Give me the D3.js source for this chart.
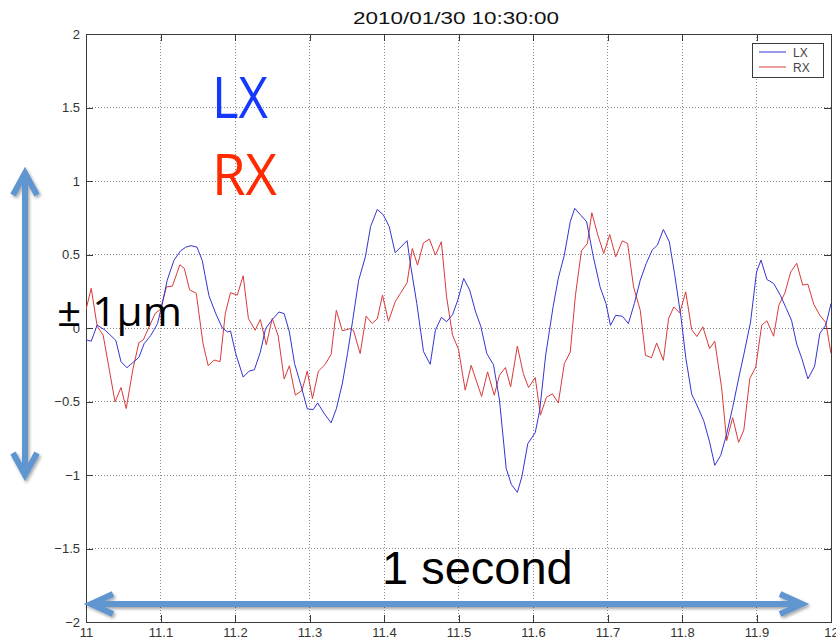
<!DOCTYPE html>
<html>
<head>
<meta charset="utf-8">
<script src="https://cdn.jsdelivr.net/npm/d3@7"></script>
<style>
  body { margin: 0; background: #fff; }
  svg { display: block; }
</style>
</head>
<body>
<div id="chart"></div>
<script>
// ---- data ----
const title = "2010/01/30 10:30:00";
const xTicks = [11, 11.1, 11.2, 11.3, 11.4, 11.5, 11.6, 11.7, 11.8, 11.9, 12];
const yTicks = [-2, -1.5, -1, -0.5, 0, 0.5, 1, 1.5, 2];
const seriesNames = ["LX", "RX"];

const lxTime = [11.000, 11.007, 11.015, 11.026, 11.040, 11.047, 11.055, 11.064, 11.071, 11.078,
  11.087, 11.096, 11.102, 11.109, 11.118, 11.127, 11.134, 11.141, 11.149, 11.156,
  11.165, 11.174, 11.183, 11.190, 11.194, 11.201, 11.211, 11.219, 11.226, 11.234,
  11.241, 11.250, 11.259, 11.266, 11.273, 11.280, 11.288, 11.297, 11.305, 11.311,
  11.320, 11.329, 11.336, 11.344, 11.351, 11.358, 11.366, 11.375, 11.382, 11.391,
  11.399, 11.407, 11.415, 11.431, 11.436, 11.444, 11.453, 11.462, 11.469, 11.477,
  11.484, 11.492, 11.499, 11.507, 11.515, 11.523, 11.530, 11.538, 11.547, 11.555,
  11.564, 11.571, 11.579, 11.585, 11.593, 11.603, 11.609, 11.617, 11.627, 11.634,
  11.642, 11.650, 11.656, 11.664, 11.672, 11.681, 11.690, 11.698, 11.704, 11.711,
  11.720, 11.728, 11.736, 11.744, 11.752, 11.760, 11.767, 11.775, 11.783, 11.790,
  11.799, 11.805, 11.813, 11.820, 11.829, 11.837, 11.844, 11.852, 11.860, 11.868,
  11.877, 11.883, 11.892, 11.900, 11.906, 11.914, 11.923, 11.932, 11.940, 11.947,
  11.954, 11.961, 11.969, 11.978, 11.985, 11.993, 12.000];
const lxValue = [-0.08, -0.09, 0.02, -0.016, -0.084, -0.23, -0.27, -0.23, -0.20, -0.107,
  -0.05, 0.03, 0.155, 0.325, 0.46, 0.525, 0.55, 0.56, 0.55, 0.46,
  0.22, 0.10, 0.0, -0.027, -0.02, -0.175, -0.334, -0.293, -0.284, -0.164,
  -0.005, 0.057, 0.109, 0.098, -0.027, -0.243, -0.38, -0.55, -0.555, -0.51,
  -0.584, -0.645, -0.55, -0.38, -0.175, 0.052, 0.325, 0.484, 0.69, 0.807,
  0.77, 0.69, 0.512, 0.594, 0.417, 0.168, -0.16, -0.247, -0.015, 0.072,
  0.043, 0.09, 0.189, 0.337, 0.258, 0.109, 0.01, -0.174, -0.25, -0.49,
  -0.955, -1.065, -1.118, -1.013, -0.787, -0.712, -0.56, -0.185, 0.145, 0.34,
  0.495, 0.723, 0.814, 0.768, 0.723, 0.484, 0.28, 0.166, 0.018, 0.086,
  0.08, 0.03, 0.166, 0.325, 0.439, 0.53, 0.564, 0.67, 0.586, 0.37,
  0.06, -0.2, -0.45, -0.525, -0.628, -0.775, -0.934, -0.866, -0.72, -0.54,
  -0.32, -0.18, 0.04, 0.38, 0.462, 0.33, 0.303, 0.223, 0.133, 0.053,
  -0.11, -0.21, -0.346, -0.26, -0.038, 0.02, 0.167];

const rxTime = [11.000, 11.007, 11.015, 11.023, 11.039, 11.047, 11.054, 11.063, 11.071, 11.077,
  11.084, 11.093, 11.100, 11.108, 11.116, 11.126, 11.132, 11.139, 11.148, 11.157,
  11.164, 11.172, 11.180, 11.187, 11.194, 11.203, 11.211, 11.218, 11.227, 11.234,
  11.242, 11.250, 11.258, 11.266, 11.273, 11.281, 11.290, 11.297, 11.304, 11.312,
  11.321, 11.329, 11.336, 11.344, 11.354, 11.359, 11.368, 11.376, 11.384, 11.391,
  11.398, 11.406, 11.415, 11.422, 11.431, 11.438, 11.445, 11.453, 11.461, 11.469,
  11.477, 11.484, 11.492, 11.500, 11.509, 11.517, 11.531, 11.539, 11.548, 11.555,
  11.563, 11.570, 11.579, 11.587, 11.594, 11.603, 11.610, 11.618, 11.626, 11.634,
  11.642, 11.650, 11.657, 11.665, 11.673, 11.679, 11.687, 11.695, 11.703, 11.711,
  11.720, 11.727, 11.735, 11.744, 11.751, 11.759, 11.766, 11.775, 11.782, 11.789,
  11.797, 11.805, 11.813, 11.820, 11.828, 11.837, 11.844, 11.853, 11.860, 11.868,
  11.876, 11.883, 11.891, 11.899, 11.907, 11.914, 11.923, 11.930, 11.938, 11.946,
  11.954, 11.962, 11.969, 11.977, 11.985, 11.993, 12.000];
const rxValue = [0.125, 0.27, 0.012, -0.048, -0.503, -0.405, -0.548, -0.28, -0.10, -0.08,
  0.0, 0.10, 0.127, 0.28, 0.285, 0.43, 0.405, 0.26, 0.236, -0.104,
  -0.256, -0.218, -0.229, 0.10, 0.24, 0.224, 0.355, 0.065, -0.015, 0.058,
  -0.114, 0.065, -0.055, -0.347, -0.257, -0.457, -0.424, -0.292, -0.48, -0.293,
  -0.248, -0.18, 0.121, -0.019, -0.005, -0.016, -0.174, 0.081, 0.031, 0.062,
  0.224, 0.046, 0.178, 0.235, 0.308, 0.541, 0.428, 0.579, 0.605, 0.496,
  0.587, 0.212, -0.049, -0.145, -0.423, -0.254, -0.466, -0.298, -0.457, -0.321,
  -0.269, -0.40, -0.123, -0.31, -0.405, -0.337, -0.593, -0.471, -0.448, -0.51,
  -0.243, -0.164, 0.223, 0.525, 0.575, 0.784, 0.632, 0.507, 0.636, 0.484,
  0.593, 0.575, 0.28, 0.12, -0.186, -0.202, -0.102, -0.22, 0.064, 0.143,
  0.102, 0.246, -0.012, -0.058, 0.008, -0.14, -0.09, -0.40, -0.766, -0.61,
  -0.778, -0.694, -0.344, -0.265, 0.019, 0.049, -0.056, 0.155, 0.237, 0.382,
  0.44, 0.292, 0.298, 0.16, 0.087, 0.037, -0.173];

// ---- layout ----
const width = 836, height = 643;
const margin = {top: 34, right: 5, bottom: 21, left: 86};
const iw = width - margin.left - margin.right,
      ih = height - margin.top - margin.bottom;
const tickLen = 7;
const lineColors = {LX: "#3434d2", RX: "#d93a3a"};
const arrowColor = "#6096cf";

const x = d3.scaleLinear().domain([11, 12]).range([0, iw]);
const y = d3.scaleLinear().domain([-2, 2]).range([ih, 0]);
const fmt = d3.format("~g");

const svg = d3.select("#chart").append("svg")
  .attr("width", width)
  .attr("height", height)
  .style("font-family", "'Liberation Sans', Arial, sans-serif");

const defs = svg.append("defs");
defs.append("clipPath").attr("id", "plotClip")
  .append("rect").attr("width", iw).attr("height", ih);
const shadow = defs.append("filter").attr("id", "shadow")
  .attr("x", "-20%").attr("y", "-20%").attr("width", "140%").attr("height", "140%");
shadow.append("feDropShadow")
  .attr("dx", 1.5).attr("dy", 2).attr("stdDeviation", 1.6)
  .attr("flood-color", "#000").attr("flood-opacity", 0.35);

// title
svg.append("text")
  .attr("x", 456).attr("y", 24)
  .attr("text-anchor", "middle")
  .attr("font-size", 17)
  .attr("textLength", 206)
  .attr("lengthAdjust", "spacingAndGlyphs")
  .attr("fill", "#111")
  .text(title);

const g = svg.append("g").attr("transform", `translate(${margin.left},${margin.top})`);

// dotted grid
g.append("g").attr("class", "grid")
  .selectAll("line.gx").data(xTicks.slice(1, -1)).join("line")
  .attr("x1", d => x(d)).attr("x2", d => x(d))
  .attr("y1", 0).attr("y2", ih);
g.select(".grid")
  .selectAll("line.gy").data(yTicks.slice(1, -1)).join("line")
  .attr("x1", 0).attr("x2", iw)
  .attr("y1", d => y(d)).attr("y2", d => y(d));
g.selectAll(".grid line")
  .attr("stroke", "#8a8a8a")
  .attr("stroke-width", 1)
  .attr("stroke-dasharray", "1,2")
  .attr("shape-rendering", "crispEdges");

// axes with inward ticks (matlab style)
const axStyle = sel => {
  sel.select(".domain").remove();
  sel.selectAll(".tick line").attr("stroke", "#3a3a3a").attr("shape-rendering", "crispEdges");
  sel.selectAll(".tick text").attr("fill", "#333").attr("font-size", 13);
};
g.append("g").attr("transform", `translate(0,${ih})`)
  .call(d3.axisBottom(x).tickValues(xTicks).tickSize(-tickLen).tickPadding(6).tickFormat(fmt))
  .call(axStyle);
g.append("g")
  .call(d3.axisLeft(y).tickValues(yTicks).tickSize(-tickLen).tickPadding(6).tickFormat(fmt))
  .call(axStyle);
g.append("g")
  .call(d3.axisTop(x).tickValues(xTicks).tickSize(-tickLen).tickFormat(""))
  .call(axStyle);
g.append("g").attr("transform", `translate(${iw},0)`)
  .call(d3.axisRight(y).tickValues(yTicks).tickSize(-tickLen).tickFormat(""))
  .call(axStyle);
g.selectAll(".tick text").attr("font-family", "'Liberation Sans', Arial, sans-serif");

// frame
g.append("rect")
  .attr("width", iw).attr("height", ih)
  .attr("fill", "none")
  .attr("stroke", "#3a3a3a")
  .attr("stroke-width", 1)
  .attr("shape-rendering", "crispEdges");

// series
const series = [
  {name: "LX", pts: lxTime.map((t, i) => ({t, v: lxValue[i]}))},
  {name: "RX", pts: rxTime.map((t, i) => ({t, v: rxValue[i]}))}
];
const line = d3.line().x(d => x(d.t)).y(d => y(d.v));
const plot = g.append("g").attr("clip-path", "url(#plotClip)");
// draw RX first so LX sits on top only where they cross later
plot.selectAll("path.series").data(series.slice().reverse()).join("path")
  .attr("class", "series")
  .attr("d", d => line(d.pts))
  .attr("fill", "none")
  .attr("stroke", d => lineColors[d.name])
  .attr("stroke-width", 1)
  .attr("stroke-linejoin", "round");

// legend
const legend = svg.append("g").attr("transform", "translate(752,43)");
legend.append("rect")
  .attr("width", 71).attr("height", 34)
  .attr("fill", "#fff").attr("stroke", "#3a3a3a").attr("stroke-width", 1)
  .attr("shape-rendering", "crispEdges");
const li = legend.selectAll("g.item").data(seriesNames).join("g")
  .attr("transform", (d, i) => `translate(0,${9 + i * 15})`);
li.append("line")
  .attr("x1", 7).attr("x2", 34).attr("y1", 0).attr("y2", 0)
  .attr("stroke", d => lineColors[d]).attr("stroke-width", 1);
li.append("text")
  .attr("x", 41).attr("y", 4.5)
  .attr("font-size", 12).attr("fill", "#444")
  .text(d => d);

// slide annotations
const ann = svg.append("g");
ann.append("text").attr("x", 212).attr("y", 118)
  .attr("font-size", 56).attr("fill", "#1538ff")
  .attr("font-family", "'Open Sans', 'Noto Sans', sans-serif")
  .attr("textLength", 56).attr("lengthAdjust", "spacingAndGlyphs")
  .text("LX");
ann.append("text").attr("x", 212).attr("y", 195)
  .attr("font-size", 56).attr("fill", "#ff2a00")
  .attr("font-family", "'Open Sans', 'Noto Sans', sans-serif")
  .attr("textLength", 65).attr("lengthAdjust", "spacingAndGlyphs")
  .text("RX");
ann.append("text").attr("x", 57).attr("y", 326)
  .attr("font-size", 41).attr("fill", "#000")
  .attr("font-family", "'Open Sans', 'Noto Sans', sans-serif")
  .attr("textLength", 125).attr("lengthAdjust", "spacingAndGlyphs")
  .text("± 1μm");
ann.append("text").attr("x", 382).attr("y", 584)
  .attr("font-size", 47).attr("fill", "#000")
  .text("1 second");

// double arrows
const arrows = svg.append("g")
  .attr("fill", "none")
  .attr("stroke", arrowColor)
  .attr("stroke-width", 6)
  .attr("filter", "url(#shadow)");
const vArrow = {x: 25, y1: 173, y2: 475, head: 22, half: 12};
arrows.append("path").attr("d",
  `M${vArrow.x},${vArrow.y1 + 2}L${vArrow.x},${vArrow.y2 - 2}` +
  `M${vArrow.x - vArrow.half},${vArrow.y1 + vArrow.head}L${vArrow.x},${vArrow.y1}L${vArrow.x + vArrow.half},${vArrow.y1 + vArrow.head}` +
  `M${vArrow.x - vArrow.half},${vArrow.y2 - vArrow.head}L${vArrow.x},${vArrow.y2}L${vArrow.x + vArrow.half},${vArrow.y2 - vArrow.head}`);
const hArrow = {y: 604, x1: 91, x2: 802, head: 22, half: 10};
arrows.append("path").attr("d",
  `M${hArrow.x1 + 2},${hArrow.y}L${hArrow.x2 - 2},${hArrow.y}` +
  `M${hArrow.x1 + hArrow.head},${hArrow.y - hArrow.half}L${hArrow.x1},${hArrow.y}L${hArrow.x1 + hArrow.head},${hArrow.y + hArrow.half}` +
  `M${hArrow.x2 - hArrow.head},${hArrow.y - hArrow.half}L${hArrow.x2},${hArrow.y}L${hArrow.x2 - hArrow.head},${hArrow.y + hArrow.half}`);
</script>
</body>
</html>
